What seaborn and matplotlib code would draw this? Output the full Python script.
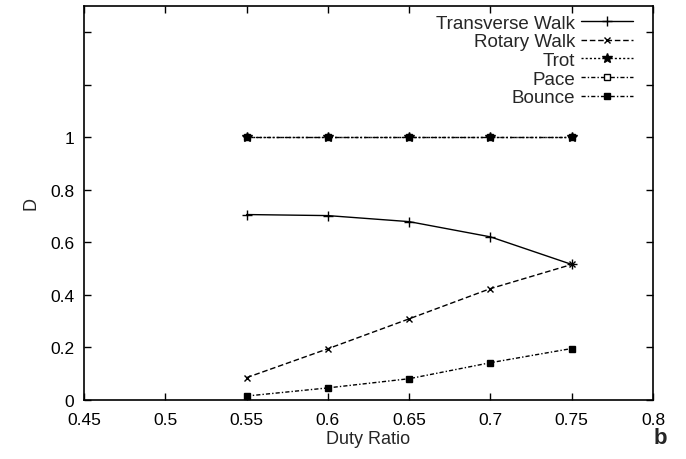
import matplotlib
matplotlib.use("Agg")
import matplotlib.pyplot as plt
import seaborn as sns
import pandas as pd

duty_ratio = [0.55, 0.60, 0.65, 0.70, 0.75]
transverse_walk = [0.706, 0.702, 0.679, 0.621, 0.516]
rotary_walk = [0.085, 0.195, 0.309, 0.424, 0.516]
trot = [1.0, 1.0, 1.0, 1.0, 1.0]
pace = [1.0, 1.0, 1.0, 1.0, 1.0]
bounce = [0.015, 0.046, 0.081, 0.142, 0.196]

series_names = ["Transverse Walk", "Rotary Walk", "Trot", "Pace", "Bounce"]
series_values = [transverse_walk, rotary_walk, trot, pace, bounce]

x_ticks = [0.45, 0.5, 0.55, 0.6, 0.65, 0.7, 0.75, 0.8]
x_tick_labels = ["0.45", "0.5", "0.55", "0.6", "0.65", "0.7", "0.75", "0.8"]
y_ticks = [0, 0.2, 0.4, 0.6, 0.8, 1.0, 1.2, 1.4]
y_tick_labels = ["0", "0.2", "0.4", "0.6", "0.8", "1", "", ""]

sns.set_style("ticks")
plt.rcParams["font.family"] = ["Liberation Sans", "DejaVu Sans"]

styles = {
    "Transverse Walk": dict(linestyle="-", marker="+", markersize=7, mfc="black", z=3),
    "Rotary Walk": dict(linestyle=(0, (4, 2)), marker="x", markersize=5, mfc="black", z=3),
    "Trot": dict(linestyle=(0, (1.5, 1.5)), marker="*", markersize=7, mfc="black", z=4),
    "Pace": dict(linestyle=(0, (3, 1.5, 1, 1.5)), marker="s", markersize=5, mfc="white", z=2),
    "Bounce": dict(linestyle=(0, (3, 1.5, 1, 1.5)), marker="s", markersize=5, mfc="black", z=3),
}

fig = plt.figure(figsize=(6.86, 4.6), dpi=100)
ax = fig.add_axes([0.1224, 0.1283, 0.8296, 0.8565])

for name, vals in zip(series_names, series_values):
    df = pd.DataFrame({"x": duty_ratio, "y": vals})
    st = styles[name]
    sns.lineplot(data=df, x="x", y="y", ax=ax, color="black", linewidth=1.0,
                 linestyle=st["linestyle"], marker=st["marker"], markersize=st["markersize"],
                 markerfacecolor=st["mfc"], markeredgecolor="black", markeredgewidth=1.0,
                 label=name, zorder=st["z"])

ax.set_xlim(0.45, 0.8)
ax.set_ylim(0, 1.5)
ax.set_xticks(x_ticks)
ax.set_xticklabels(x_tick_labels)
ax.set_yticks(y_ticks)
ax.set_yticklabels(y_tick_labels)
ax.tick_params(direction="in", top=True, right=True, length=5, width=1, labelsize=12.5,
               colors="black")
ax.tick_params(axis="x", pad=9)
ax.tick_params(axis="y", pad=7)
for s in ax.spines.values():
    s.set_linewidth(1.2)
    s.set_color("black")
ax.set_xlabel("Duty Ratio", fontsize=13, labelpad=2)
ax.set_ylabel("D", fontsize=13, labelpad=8)

ax.legend(loc="upper right", bbox_to_anchor=(0.965, 0.978), frameon=False,
          markerfirst=False, fontsize=13.5, handlelength=2.8, labelspacing=0.08,
          borderaxespad=0.0, borderpad=0.0, handletextpad=0.3)

fig.text(0.962, 0.035, "b", fontsize=16, fontweight="bold", ha="center")

fig.savefig("out.png", dpi=100)
